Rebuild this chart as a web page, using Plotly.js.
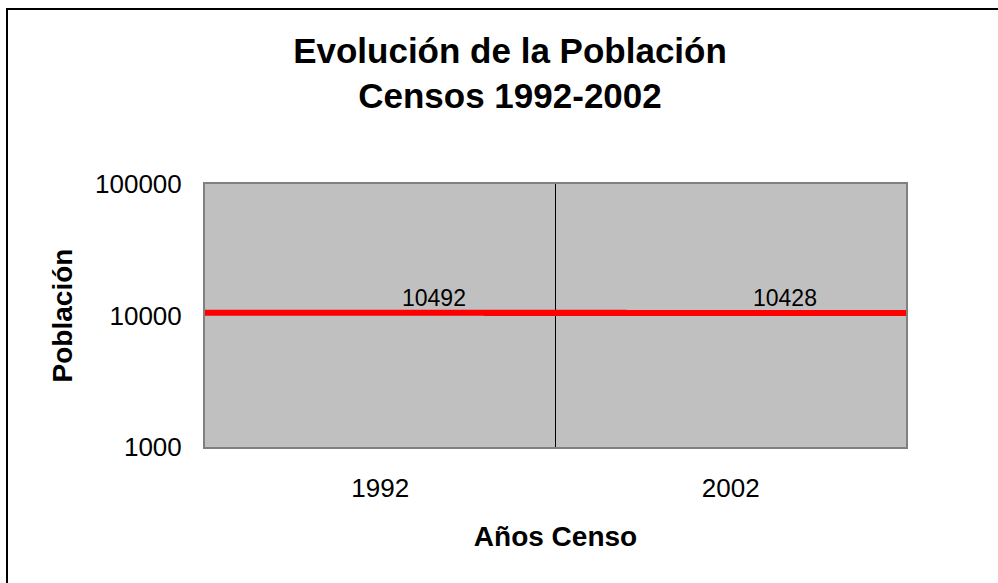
<!DOCTYPE html>
<html>
<head>
<meta charset="utf-8">
<script src="https://cdn.plot.ly/plotly-3.0.1.min.js"></script>
<style>
  html, body { margin: 0; padding: 0; background: #ffffff; }
  #wrap { position: relative; width: 998px; height: 583px; overflow: hidden; }
  #chart { width: 998px; height: 583px; }
  #frame { position: absolute; left: 6px; top: 8px; width: 1100px; height: 700px;
           border-left: 2px solid #000; border-top: 2px solid #000; pointer-events: none; }
</style>
</head>
<body>
<div id="wrap">
  <div id="chart"></div>
  <div id="frame"></div>
</div>
<script>
// ---- data ----
const years = ['1992', '2002'];
const population = [10492, 10428];
const yTickVals = [1000, 10000, 100000];
const yTickText = ['1000', '10000', '100000'];
const chartTitle = 'Evolución de la Población<br>Censos 1992-2002';
const xTitle = 'Años Censo';
const yTitle = 'Población';

const FONT = 'Liberation Sans, Arial, Helvetica, sans-serif';

// each year's value drawn as a horizontal red segment spanning its category slot
const lineTrace = {
  type: 'scatter',
  mode: 'markers',
  x: years,
  y: population,
  marker: {
    symbol: 'line-ew',
    size: 352,
    color: '#FF0000',
    line: { width: 6, color: '#FF0000' }
  },
  hoverinfo: 'x+y',
  showlegend: false
};

// data labels: x is the category index, y in log10 units (log axis)
const labelAnnotations = years.map((yr, i) => ({
  x: i,
  y: Math.log10(population[i]),
  xref: 'x', yref: 'y',
  text: String(population[i]),
  showarrow: false,
  xanchor: 'left',
  yanchor: 'bottom',
  xshift: 20,
  font: { family: FONT, size: 23, color: '#000000' }
}));

const layout = {
  width: 998,
  height: 583,
  margin: { l: 205, r: 92, t: 184, b: 136 },
  paper_bgcolor: '#FFFFFF',
  plot_bgcolor: '#C0C0C0',
  font: { family: FONT, color: '#000000' },
  showlegend: false,
  title: {
    text: chartTitle,
    x: 510 / 998,
    xref: 'container',
    xanchor: 'center',
    y: 0.892,
    yref: 'container',
    yanchor: 'top',
    font: { family: FONT, size: 35, color: '#000000', weight: 700 }
  },
  xaxis: {
    type: 'category',
    range: [-0.5, 1.5],
    tickson: 'boundaries',
    showgrid: true,
    gridcolor: '#000000',
    gridwidth: 1,
    ticks: '',
    showline: true,
    mirror: true,
    linecolor: '#808080',
    linewidth: 2,
    zeroline: false,
    tickfont: { family: FONT, size: 26, color: '#000000' },
    ticklabelstandoff: 17,
    title: {
      text: xTitle,
      standoff: 24,
      font: { family: FONT, size: 28, color: '#000000', weight: 700 }
    },
    fixedrange: true
  },
  yaxis: {
    type: 'log',
    range: [3, 5],
    tickvals: yTickVals,
    ticktext: yTickText,
    showgrid: false,
    ticks: '',
    showline: true,
    mirror: true,
    linecolor: '#808080',
    linewidth: 2,
    zeroline: false,
    tickfont: { family: FONT, size: 26, color: '#000000' },
    ticklabelstandoff: 16,
    title: {
      text: yTitle,
      standoff: 14,
      font: { family: FONT, size: 28, color: '#000000', weight: 700 }
    },
    fixedrange: true
  },
  annotations: labelAnnotations
};

Plotly.newPlot('chart', [lineTrace], layout, { displayModeBar: false, staticPlot: true });
</script>
</body>
</html>
